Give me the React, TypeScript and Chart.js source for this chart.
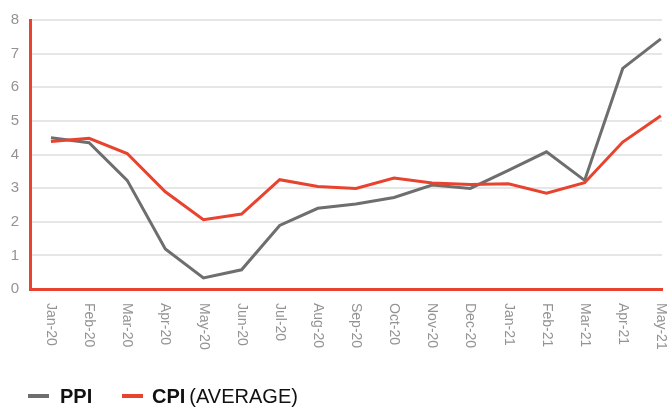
import React, { useEffect, useRef } from "react";
import { Chart, registerables } from "chart.js";

Chart.register(...registerables);

const months = [
  "Jan-20", "Feb-20", "Mar-20", "Apr-20", "May-20", "Jun-20", "Jul-20", "Aug-20",
  "Sep-20", "Oct-20", "Nov-20", "Dec-20", "Jan-21", "Feb-21", "Mar-21", "Apr-21", "May-21",
];
const ppi = [4.5, 4.35, 3.23, 1.19, 0.33, 0.57, 1.89, 2.4, 2.53, 2.72, 3.09, 2.99, 3.53, 4.08, 3.23, 6.56, 7.44];
const cpi = [4.39, 4.48, 4.03, 2.89, 2.06, 2.23, 3.25, 3.05, 2.99, 3.3, 3.15, 3.11, 3.13, 2.85, 3.16, 4.37, 5.15];
const yTicks = [0, 1, 2, 3, 4, 5, 6, 7, 8];

const GRAY = "#6e6e6e";
const RED = "#e8432f";
const LABEL = "#939393";

const customDraw = {
  id: "customDraw",
  afterDraw(chart: any) {
    const ctx = chart.ctx;
    const xs = chart.scales.x;
    ctx.save();
    ctx.fillStyle = LABEL;
    ctx.font = "14px 'Liberation Sans', Arial, sans-serif";
    ctx.textAlign = "left";
    ctx.textBaseline = "middle";
    months.forEach((m, i) => {
      const px = xs.getPixelForValue(i);
      ctx.save();
      ctx.translate(px, chart.chartArea.bottom + 14);
      ctx.rotate(Math.PI / 2);
      ctx.fillText(m, 0, 0);
      ctx.restore();
    });
    ctx.restore();

    // legend
    ctx.save();
    const ly = 396;
    ctx.lineWidth = 4;
    ctx.strokeStyle = GRAY;
    ctx.beginPath();
    ctx.moveTo(28, ly);
    ctx.lineTo(49, ly);
    ctx.stroke();
    ctx.strokeStyle = RED;
    ctx.beginPath();
    ctx.moveTo(122, ly);
    ctx.lineTo(143, ly);
    ctx.stroke();
    ctx.fillStyle = "#111";
    ctx.textBaseline = "alphabetic";
    ctx.textAlign = "left";
    ctx.font = "bold 20px 'Liberation Sans', Arial, sans-serif";
    ctx.fillText("PPI", 60, 403);
    ctx.fillText("CPI", 152, 403);
    const w = ctx.measureText("CPI").width;
    ctx.font = "20px 'Liberation Sans', Arial, sans-serif";
    ctx.fillText("(AVERAGE)", 152 + w + 4, 403);
    ctx.restore();
  },
};

export default function App() {
  const ref = useRef<HTMLCanvasElement>(null);
  useEffect(() => {
    if (!ref.current) return;
    const chart = new Chart(ref.current, {
      type: "line",
      data: {
        datasets: [
          {
            label: "PPI",
            data: ppi.map((v, i) => ({ x: i, y: v })),
            borderColor: GRAY,
            backgroundColor: GRAY,
            borderWidth: 3,
            pointRadius: 0,
            tension: 0,
            order: 1,
          },
          {
            label: "CPI (AVERAGE)",
            data: cpi.map((v, i) => ({ x: i, y: v })),
            borderColor: RED,
            backgroundColor: RED,
            borderWidth: 3,
            pointRadius: 0,
            tension: 0,
            order: 0,
          },
        ],
      },
      options: {
        animation: false,
        responsive: true,
        maintainAspectRatio: false,
        layout: { padding: { top: 15, right: 10, left: 0, bottom: 0 } },
        plugins: { legend: { display: false }, tooltip: { enabled: false } },
        scales: {
          x: {
            type: "linear",
            min: -0.55,
            max: 16.03,
            afterFit: (s: any) => { s.height = 120; },
            ticks: { display: false, stepSize: 1 },
            grid: { display: false, drawTicks: false },
            border: { display: true, color: RED, width: 3 },
          },
          y: {
            min: 0,
            max: 8,
            afterFit: (s: any) => { s.width = 30; },
            afterBuildTicks: (s: any) => { s.ticks = yTicks.map((v) => ({ value: v })); },
            ticks: {
              padding: 11,
              color: LABEL,
              font: { family: "'Liberation Sans', Arial, sans-serif", size: 15 },
            },
            grid: { color: "#e6e6e6", lineWidth: 2, drawTicks: false },
            border: { display: true, color: RED, width: 3 },
          },
        },
      },
      plugins: [customDraw],
    });
    return () => chart.destroy();
  }, []);
  return (
    <div style={{ position: "absolute", left: 0, top: 0, width: 672, height: 409 }}>
      <canvas ref={ref} />
    </div>
  );
}
